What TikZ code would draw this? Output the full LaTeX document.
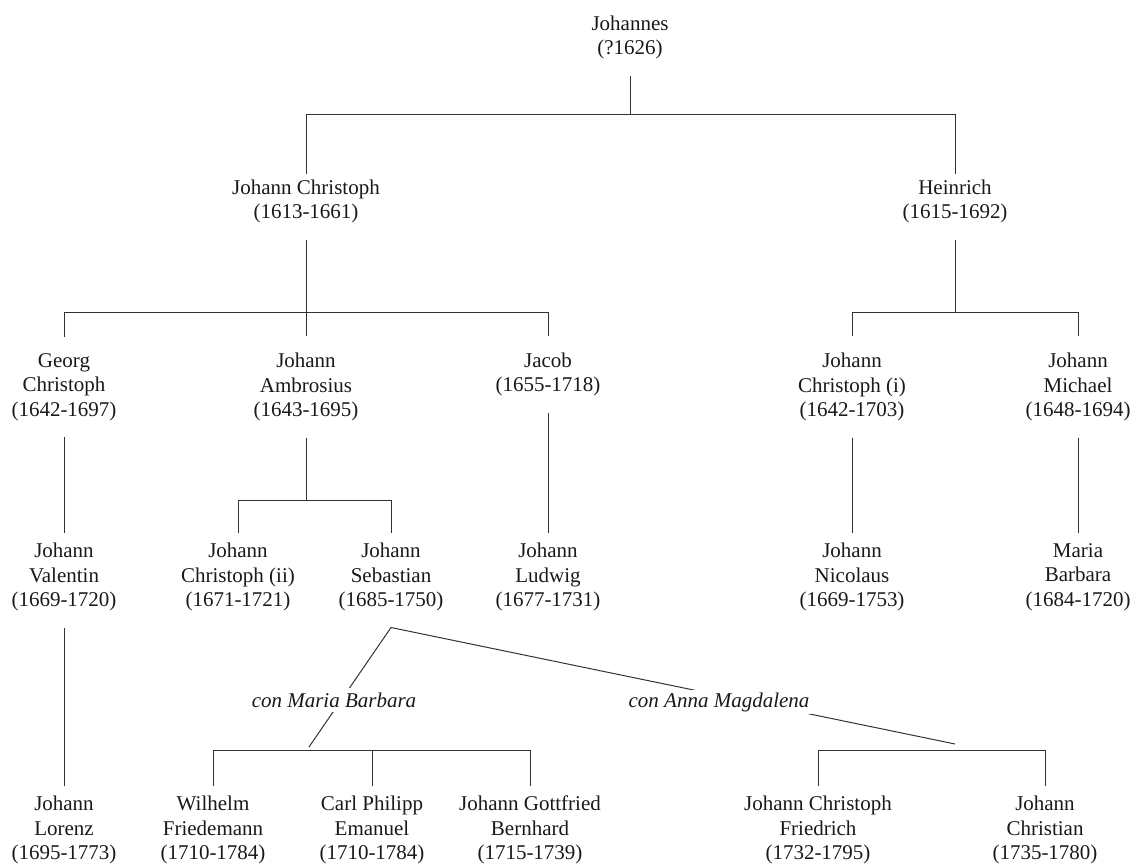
\documentclass[tikz,border=0pt]{standalone}
\usepackage{fontspec}
\setmainfont{Liberation Serif}
\usetikzlibrary{calc}
\tikzset{
  person/.style={align=center, inner xsep=2pt, inner ysep=8pt, text=black!90, font=\fontsize{10.5}{12.3}\selectfont},
  wife/.style={person, font=\fontsize{10.5}{12.3}\selectfont\itshape, fill=white, inner xsep=1pt, inner ysep=2.5pt},
  connect/.style={line width=0.5pt, draw=black!80},
  reach/.style={connect, shorten >=-3.2pt}
}

\begin{document}
\begin{tikzpicture}[x=0.5pt, y=-0.5pt]
      \useasboundingbox (0,0) rectangle (1132,865);
      \node[person] (JO) at (630,37.5) {Johannes\\(?1626)};
      \node[person] (JC) at (306,201.5) {Johann Christoph\\(1613-1661)};
      \node[person] (HE) at (955,201.5) {Heinrich\\(1615-1692)};
      \node[person] (GC) at (64,387) {Georg\\Christoph\\(1642-1697)};
      \node[person] (JA) at (306,387) {Johann\\Ambrosius\\(1643-1695)};
      \node[person] (JK) at (548,374.5) {Jacob\\(1655-1718)};
      \node[person] (JCa) at (852,387) {Johann\\Christoph (i)\\(1642-1703)};
      \node[person] (JM) at (1078,387) {Johann\\Michael\\(1648-1694)};
      \node[person] (JV) at (64,577) {Johann\\Valentin\\(1669-1720)};
      \node[person] (JCb) at (238,577) {Johann\\Christoph (ii)\\(1671-1721)};
      \node[person] (JS) at (391,577) {Johann\\Sebastian\\(1685-1750)};
      \node[person] (JL) at (548,577) {Johann\\Ludwig\\(1677-1731)};
      \node[person] (JN) at (852,577) {Johann\\Nicolaus\\(1669-1753)};
      \node[person] (MB) at (1078,577) {Maria\\Barbara\\(1684-1720)};
      \node[person] (LO) at (64,830) {Johann\\Lorenz\\(1695-1773)};
      \node[person] (WF) at (213,830) {Wilhelm\\Friedemann\\(1710-1784)};
      \node[person] (CP) at (372,830) {Carl Philipp\\Emanuel\\(1710-1784)};
      \node[person] (JG) at (530,830) {Johann Gottfried\\Bernhard\\(1715-1739)};
      \node[person] (JF) at (818,830) {Johann Christoph\\Friedrich\\(1732-1795)};
      \node[person] (JCh) at (1045,830) {Johann\\Christian\\(1735-1780)};

      % family bars
      \coordinate (b0) at (630,115);
      \coordinate (b1) at (306,313);
      \coordinate (b2) at (955,313);
      \coordinate (b3) at (306,501);
      \coordinate (b4) at (372,751);
      \coordinate (b5) at (931,751);
      \coordinate (mb) at (309,747);
      \coordinate (am) at (955,744);

      \draw[connect] (JO.south) -- (b0);
      \draw[connect, shorten >=-5.5pt] (b0) -| (JC.north);
      \draw[connect, shorten >=-5.5pt] (b0) -| (HE.north);
      \draw[connect] (JC.south) -- (b1);
      \draw[connect] (b1) -| (GC.north);
      \draw[connect] (b1) -- (JA.north);
      \draw[connect] (b1) -| (JK.north);
      \draw[connect] (HE.south) -- (b2);
      \draw[connect] (b2) -| (JCa.north);
      \draw[connect] (b2) -| (JM.north);
      \draw[connect] (JA.south) -- (b3);
      \draw[reach] (b3) -| (JCb.north);
      \draw[reach] (b3) -| (JS.north);
      \path (GC.south) edge[reach] (JV.north)
            (JK.south) edge[reach] (JL.north)
            (JCa.south) edge[reach] (JN.north)
            (JM.south) edge[reach] (MB.north)
            (JV.south) edge[reach] (LO.north);
      \draw[reach] (b4) -| (WF.north);
      \draw[reach] (b4) -- (CP.north);
      \draw[reach] (b4) -| (JG.north);
      \draw[reach] (b5) -| (JF.north);
      \draw[reach] (b5) -| (JCh.north);

      % the two marriages
      \draw[connect] (mb) -- (JS.south) -- (am);
      \node[wife] (cMB) at (334,700) {con Maria Barbara};
      \node[wife, inner ysep=1pt] (cAM) at (719,702) {con Anna Magdalena};
\end{tikzpicture}
\end{document}
